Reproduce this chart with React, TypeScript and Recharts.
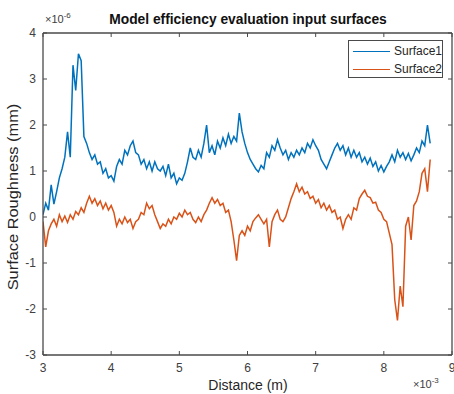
import React from 'react';
import { LineChart, Line, XAxis, YAxis } from 'recharts';

// Distance grid (×10^-3 m): 3.00 .. 8.68 in steps of 0.04
const distanceStart = 3.0;
const distanceStep = 0.04;

// Surface roughness (×10^-6 mm)
const surface1 = [
  0.05, 0.30, 0.15, 0.70, 0.28, 0.55, 0.85, 1.05, 1.30, 1.85,
  1.30, 3.30, 2.75, 3.55, 3.40, 1.75, 1.60, 1.40, 1.25, 1.35,
  1.15, 1.20, 0.95, 1.05, 0.85, 0.90, 0.78, 1.10, 1.25, 1.15,
  1.45, 1.35, 1.55, 1.65, 1.40, 1.35, 1.15, 1.25, 1.05, 1.20,
  1.00, 1.20, 1.05, 1.00, 1.10, 0.90, 1.15, 0.85, 0.95, 0.72,
  0.85, 0.80, 0.95, 1.20, 1.50, 1.30, 1.25, 1.45, 1.30, 1.60,
  2.00, 1.40, 1.55, 1.35, 1.65, 1.50, 1.72, 1.55, 1.80, 1.60,
  1.75, 1.65, 2.26, 1.85, 1.60, 1.40, 1.25, 1.15, 1.05, 0.98,
  1.12, 1.05, 1.40, 1.30, 1.55, 1.45, 1.68, 1.50, 1.35, 1.45,
  1.25, 1.40, 1.30, 1.45, 1.35, 1.50, 1.40, 1.60, 1.50, 1.68,
  1.55, 1.45, 1.25, 1.15, 1.05, 1.20, 1.35, 1.50, 1.60, 1.45,
  1.55, 1.35, 1.50, 1.30, 1.45, 1.30, 1.40, 1.20, 1.30, 1.15,
  1.28, 1.10, 1.20, 1.00, 1.12, 0.98, 1.10, 1.20, 1.35, 1.20,
  1.45, 1.30, 1.40, 1.25, 1.38, 1.22, 1.35, 1.50, 1.40, 1.65,
  1.55, 2.00, 1.60,
];

const surface2 = [
  -0.10, -0.65, -0.30, -0.15, -0.05, -0.20, 0.05, -0.10, 0.02, -0.12,
  0.05, -0.05, 0.12, 0.05, 0.20, 0.10, 0.30, 0.45, 0.30, 0.40,
  0.25, 0.35, 0.18, 0.30, 0.15, 0.25, 0.10, -0.20, -0.05, -0.15,
  0.00, -0.12, -0.05, -0.25, -0.10, -0.05, 0.10, 0.05, 0.30, 0.18,
  0.25, 0.05, -0.10, -0.25, -0.15, -0.20, -0.05, -0.15, 0.00, -0.05,
  0.08, 0.00, 0.15, 0.05, 0.10, -0.05, -0.12, 0.00, -0.10, 0.05,
  0.15, 0.30, 0.42, 0.30, 0.38, 0.25, 0.30, 0.10, 0.15, -0.10,
  -0.50, -0.95, -0.40, -0.30, -0.40, -0.20, -0.30, -0.10, -0.02, 0.05,
  -0.05, -0.15, -0.05, -0.65, -0.10, 0.05, 0.15, -0.05, -0.10, 0.00,
  0.20, 0.40, 0.55, 0.72, 0.55, 0.65, 0.50, 0.55, 0.40, 0.45,
  0.30, 0.38, 0.20, 0.30, 0.15, 0.25, 0.10, 0.15, -0.05, 0.00,
  -0.25, -0.05, 0.05, -0.05, 0.20, 0.15, 0.40, 0.50, 0.58, 0.45,
  0.42, 0.30, 0.32, 0.15, 0.10, -0.05, -0.10, -0.35, -0.60, -1.80,
  -2.25, -1.50, -1.95, -0.20, 0.00, -0.50, 0.25, 0.35, 0.55, 0.95,
  1.05, 0.55, 1.25,
];

const xTicks = [3, 4, 5, 6, 7, 8, 9];
const yTicks = [-3, -2, -1, 0, 1, 2, 3, 4];
const seriesNames = ['Surface1', 'Surface2'];
const seriesColors = ['#0072BD', '#D95319'];

const data = surface1.map((v, i) => ({
  x: +(distanceStart + i * distanceStep).toFixed(2),
  s1: v,
  s2: surface2[i],
}));

const FONT = "Arial, 'Liberation Sans', Helvetica, sans-serif";
const AXIS = '#4a4a4a';
const TXT = '#404040';

const BottomTick = (props: any) => {
  const { x, y, payload } = props;
  return (
    <g>
      <line x1={x} x2={x} y1={y} y2={y - 4} stroke={AXIS} strokeWidth={1} />
      <text x={x} y={y + 17} textAnchor="middle" fontSize={12} fill={TXT} fontFamily={FONT}>
        {payload.value}
      </text>
    </g>
  );
};

const TopTick = (props: any) => {
  const { x, y } = props;
  return <line x1={x} x2={x} y1={y} y2={y + 4} stroke={AXIS} strokeWidth={1} />;
};

const LeftTick = (props: any) => {
  const { x, y, payload } = props;
  return (
    <g>
      <line x1={x} x2={x + 4} y1={y} y2={y} stroke={AXIS} strokeWidth={1} />
      <text x={x - 7} y={y + 4} textAnchor="end" fontSize={12} fill={TXT} fontFamily={FONT}>
        {payload.value}
      </text>
    </g>
  );
};

const RightTick = (props: any) => {
  const { x, y } = props;
  return <line x1={x} x2={x - 4} y1={y} y2={y} stroke={AXIS} strokeWidth={1} />;
};

export default function App() {
  return (
    <div style={{ position: 'absolute', left: 0, top: 0, width: 454, height: 394, background: '#fff', fontFamily: FONT }}>
      <LineChart
        width={454}
        height={394}
        data={data}
        margin={{ top: 32, right: 1, bottom: 38, left: 42 }}
      >
        <XAxis
          xAxisId="b"
          dataKey="x"
          type="number"
          domain={[3, 9]}
          ticks={xTicks}
          height={1}
          tickSize={0}
          tickMargin={0}
          tickLine={false}
          axisLine={{ stroke: AXIS, strokeWidth: 1.3 }}
          tick={<BottomTick />}
          interval={0}
          allowDataOverflow
        />
        <XAxis
          xAxisId="t"
          orientation="top"
          dataKey="x"
          type="number"
          domain={[3, 9]}
          ticks={xTicks}
          height={1}
          tickSize={0}
          tickMargin={0}
          tickLine={false}
          axisLine={{ stroke: AXIS, strokeWidth: 1.3 }}
          tick={<TopTick />}
          interval={0}
          allowDataOverflow
        />
        <YAxis
          yAxisId="l"
          type="number"
          domain={[-3, 4]}
          ticks={yTicks}
          width={1}
          tickSize={0}
          tickMargin={0}
          tickLine={false}
          axisLine={{ stroke: AXIS, strokeWidth: 1.3 }}
          tick={<LeftTick />}
          interval={0}
          allowDataOverflow
        />
        <YAxis
          yAxisId="r"
          orientation="right"
          type="number"
          domain={[-3, 4]}
          ticks={yTicks}
          width={1}
          tickSize={0}
          tickMargin={0}
          tickLine={false}
          axisLine={{ stroke: AXIS, strokeWidth: 1.3 }}
          tick={<RightTick />}
          interval={0}
          allowDataOverflow
        />
        <Line
          xAxisId="b"
          yAxisId="l"
          dataKey="s1"
          name={seriesNames[0]}
          stroke={seriesColors[0]}
          strokeWidth={1.5}
          dot={false}
          isAnimationActive={false}
          type="linear"
        />
        <Line
          xAxisId="b"
          yAxisId="l"
          dataKey="s2"
          name={seriesNames[1]}
          stroke={seriesColors[1]}
          strokeWidth={1.5}
          dot={false}
          isAnimationActive={false}
          type="linear"
        />
      </LineChart>

      {/* Title */}
      <div style={{ position: 'absolute', left: 43, width: 410, top: 12, textAlign: 'center', fontWeight: 'bold', fontSize: 13.8, lineHeight: '16px', color: '#111' }}>
        Model efficiency evaluation input surfaces
      </div>
      {/* Y exponent */}
      <div style={{ position: 'absolute', left: 45, top: 12, fontSize: 11, lineHeight: '14px', color: TXT, whiteSpace: 'nowrap' }}>
        ×10<sup style={{ fontSize: 8, lineHeight: '8px' }}>-6</sup>
      </div>
      {/* X exponent */}
      <div style={{ position: 'absolute', left: 413, top: 377, fontSize: 11, lineHeight: '14px', color: TXT, whiteSpace: 'nowrap' }}>
        ×10<sup style={{ fontSize: 8, lineHeight: '8px' }}>-3</sup>
      </div>
      {/* X label */}
      <div style={{ position: 'absolute', left: 43, width: 410, top: 377, textAlign: 'center', fontSize: 14, lineHeight: '17px', color: '#262626' }}>
        Distance (m)
      </div>
      {/* Y label */}
      <div style={{ position: 'absolute', left: 13, top: 197, transform: 'translate(-50%, -50%) rotate(-90deg) scaleX(1.17)', fontSize: 14, lineHeight: '17px', color: '#262626', whiteSpace: 'nowrap' }}>
        Surface Roughness (mm)
      </div>
      {/* Legend */}
      <div style={{ position: 'absolute', left: 348, top: 40, width: 95, height: 38, border: `1px solid ${AXIS}`, background: '#fff', boxSizing: 'border-box' }}>
        {seriesNames.map((n, i) => (
          <div key={n} style={{ position: 'absolute', left: 4, top: 3 + i * 18, height: 14, display: 'flex', alignItems: 'center' }}>
            <div style={{ width: 37, height: 0, borderTop: `1.3px solid ${seriesColors[i]}` }} />
            <span style={{ marginLeft: 4, fontSize: 12, color: '#262626', lineHeight: '14px' }}>{n}</span>
          </div>
        ))}
      </div>
    </div>
  );
}
